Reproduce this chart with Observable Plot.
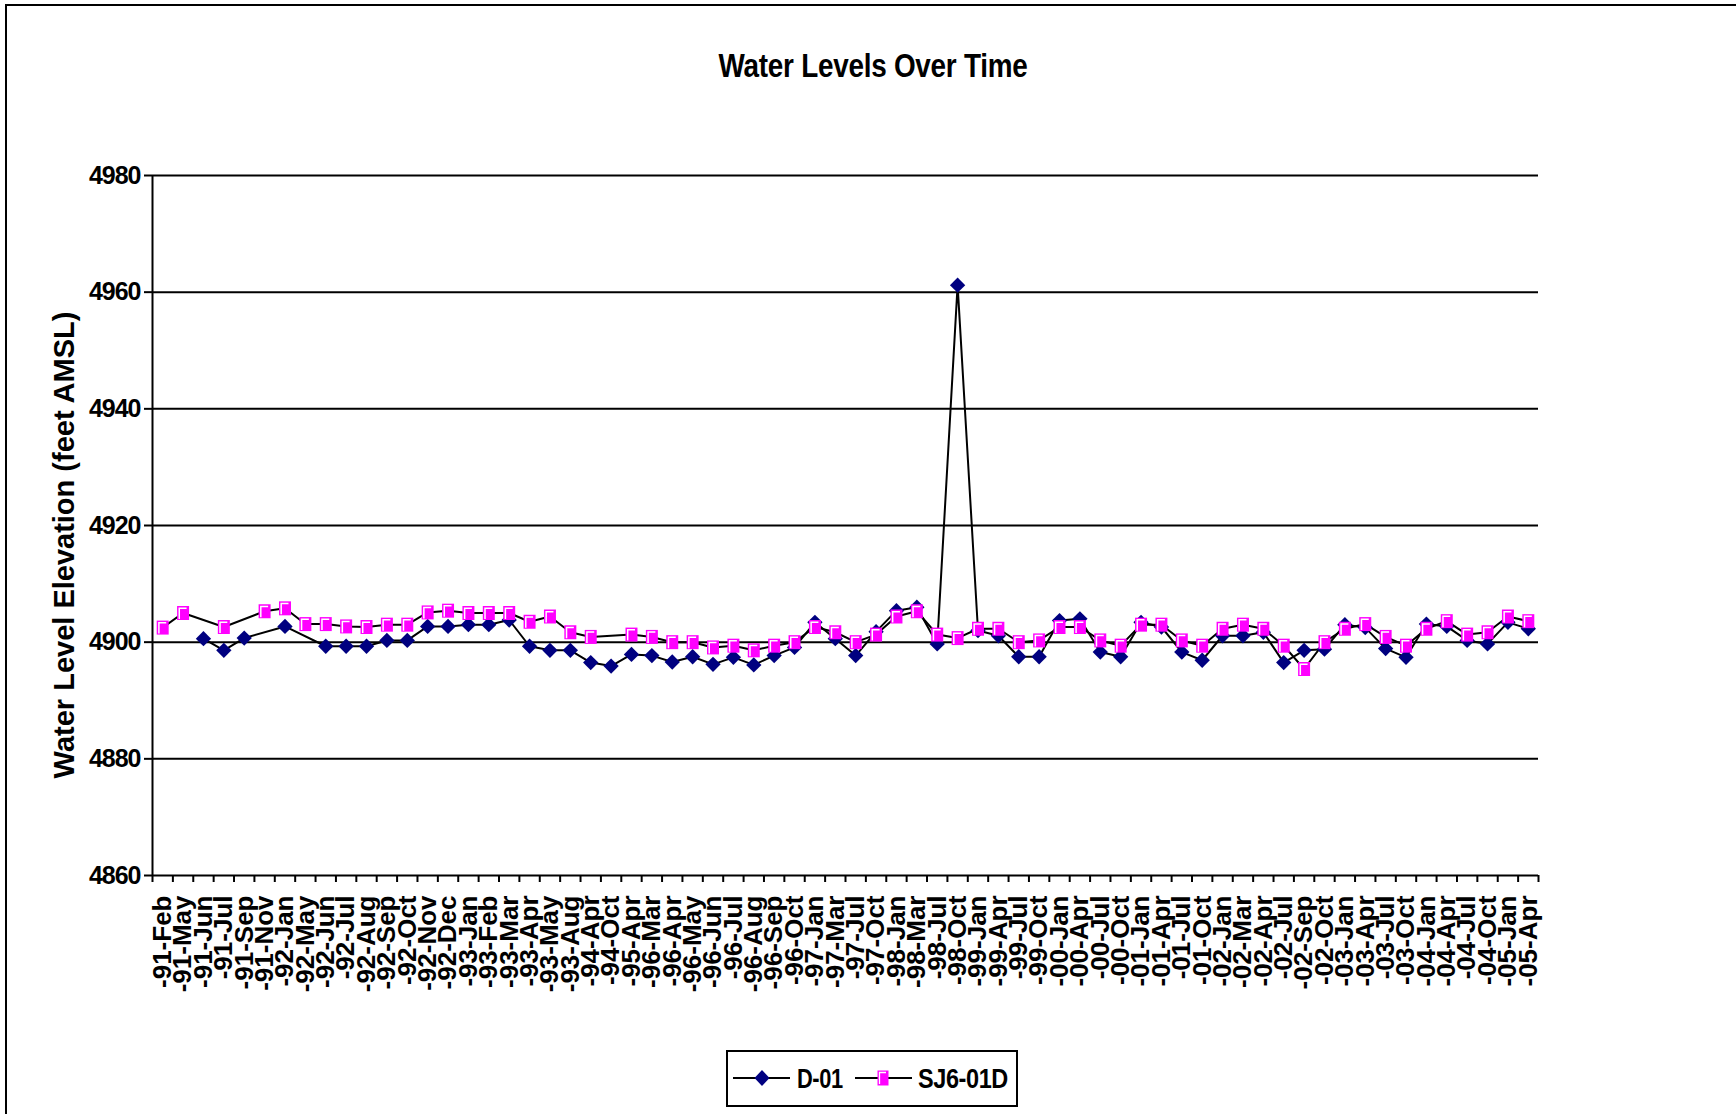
<!DOCTYPE html>
<html><head><meta charset="utf-8">
<script src="https://cdn.jsdelivr.net/npm/d3@7"></script>
<script src="https://cdn.jsdelivr.net/npm/@observablehq/plot@0.6"></script>
<style>
body{margin:0;background:#fff;}
#wrap{position:relative;width:1736px;height:1114px;overflow:hidden;font-family:"Liberation Sans",Arial,sans-serif;background:#fff;}
#frame{position:absolute;left:5px;top:4px;right:-10px;bottom:-10px;border-left:2px solid #000;border-top:2px solid #000;}
#chart{position:absolute;left:0;top:0;}
#title{position:absolute;left:0;width:1736px;top:46px;text-align:center;font-weight:bold;font-size:33px;line-height:40px;white-space:nowrap;transform:scaleX(0.845);transform-origin:868px 50%;letter-spacing:-0.3px;margin-left:5px;}
#ytitle{position:absolute;left:64px;top:545px;transform:translate(-50%,-50%) rotate(-90deg);font-weight:bold;font-size:29px;white-space:nowrap;line-height:30px;}
#legend{position:absolute;left:726px;top:1050px;}
</style>
</head><body>
<div id="wrap">
  <div id="frame"></div>
  <div id="chart"></div>
  <div id="title">Water Levels Over Time</div>
  <div id="ytitle">Water Level Elevation (feet AMSL)</div>
  <div id="legend"></div>
</div>
<script>
const labels = ["-91-Feb","-91-May","-91-Jun","-91-Jul","-91-Sep","-91-Nov","-92-Jan","-92-May","-92-Jun","-92-Jul","-92-Aug","-92-Sep","-92-Oct","-92-Nov","-92-Dec","-93-Jan","-93-Feb","-93-Mar","-93-Apr","-93-May","-93-Aug","-94-Apr","-94-Oct","-95-Apr","-96-Mar","-96-Apr","-96-May","-96-Jun","-96-Jul","-96-Aug","-96-Sep","-96-Oct","-97-Jan","-97-Mar","-97-Jul","-97-Oct","-98-Jan","-98-Mar","-98-Jul","-98-Oct","-99-Jan","-99-Apr","-99-Jul","-99-Oct","-00-Jan","-00-Apr","-00-Jul","-00-Oct","-01-Jan","-01-Apr","-01-Jul","-01-Oct","-02-Jan","-02-Mar","-02-Apr","-02-Jul","-02-Sep","-02-Oct","-03-Jan","-03-Apr","-03-Jul","-03-Oct","-04-Jan","-04-Apr","-04-Jul","-04-Oct","-05-Jan","-05-Apr"];

const d01 = [null,null,4900.6,4898.6,4900.7,null,4902.7,null,4899.3,4899.3,4899.3,4900.3,4900.3,4902.7,4902.7,4903.0,4903.0,4903.8,4899.3,4898.6,4898.6,4896.5,4895.9,4897.9,4897.7,4896.6,4897.5,4896.2,4897.4,4896.1,4897.7,4899.1,4903.4,4900.6,4897.7,4901.8,4905.4,4906.0,4899.7,4961.2,4902.0,4901.1,4897.5,4897.5,4903.7,4904.0,4898.3,4897.5,4903.4,4902.6,4898.3,4896.9,4901.1,4901.1,4901.7,4896.5,4898.6,4898.8,4903.0,4902.5,4898.9,4897.4,4903.1,4902.7,4900.3,4899.7,4903.4,4902.3];

const sj601d = [4902.5,4905.0,null,4902.6,null,4905.3,4905.8,4903.1,4903.1,4902.7,4902.6,4903.0,4903.0,4905.1,4905.4,4905.0,4905.0,4905.0,4903.5,4904.4,4901.7,4900.9,null,4901.3,4900.9,4900.0,4900.0,4899.1,4899.4,4898.6,4899.4,4900.0,4902.6,4901.7,4900.0,4901.3,4904.4,4905.3,4901.3,4900.7,4902.3,4902.3,4900.0,4900.3,4902.6,4902.6,4900.3,4899.4,4903.0,4903.0,4900.3,4899.4,4902.3,4903.0,4902.3,4899.4,4895.4,4900.0,4902.3,4903.1,4900.9,4899.4,4902.3,4903.6,4901.3,4901.7,4904.4,4903.6];

const yTicks = [4860,4880,4900,4920,4940,4960,4980];
const seriesNames = ["D-01","SJ6-01D"];

const toPts = arr => arr.map((v,i)=>({i: i+0.5, v})).filter(d => d.v != null);
const dPts = toPts(d01);
const sPts = toPts(sj601d);

const squareSym = {draw(ctx){ ctx.moveTo(-6,-7); ctx.lineTo(6,-7); ctx.lineTo(6,7); ctx.lineTo(-6,7); ctx.closePath(); }};
const gammaSym = {draw(ctx){ ctx.moveTo(-3.8,6); ctx.lineTo(-3.8,-4.8); ctx.lineTo(3.5,-4.8); }};

const plot = Plot.plot({
  width: 1736, height: 1114,
  marginLeft: 152, marginRight: 198, marginTop: 175, marginBottom: 239,
  style: {fontFamily: '"Liberation Sans", Arial, sans-serif', background: "transparent", overflow: "visible"},
  x: {type: "linear", domain: [0, labels.length], axis: null, label: null},
  y: {domain: [4860, 4980], axis: null, label: null},
  marks: [
    Plot.gridY(yTicks, {stroke: "#000", strokeOpacity: 1, strokeWidth: 2}),
    Plot.ruleX([0], {stroke: "#000", strokeWidth: 2}),
    Plot.axisY({ticks: yTicks, label: null, tickSize: 8, tickPadding: 4, fontSize: 25, fontWeight: "bold", strokeWidth: 2, tickFormat: d => String(d)}),
    Plot.axisX({ticks: d3.range(labels.length + 1), label: null, tickSize: 7, tickFormat: () => "", strokeWidth: 2}),
    Plot.axisX({ticks: labels.map((d,i)=>i+0.5), label: null, tickSize: 0, tickPadding: 20, tickRotate: -90, fontSize: 26, fontWeight: "bold", tickFormat: d => labels[Math.round(d - 0.5)]}),
    Plot.line(dPts, {x: "i", y: "v", stroke: "#000", strokeWidth: 2}),
    Plot.line(sPts, {x: "i", y: "v", stroke: "#000", strokeWidth: 2}),
    Plot.dot(dPts, {x: "i", y: "v", symbol: "diamond2", r: 6.9, fill: "#000080", stroke: "none"}),
    Plot.dot(sPts, {x: "i", y: "v", symbol: squareSym, fill: "#FF00FF", stroke: "none"}),
    Plot.dot(sPts, {x: "i", y: "v", symbol: gammaSym, fill: "none", stroke: "#fff", strokeWidth: 1.5})
  ]
});
document.getElementById("chart").appendChild(plot);
d3.select(plot).selectAll('g[aria-label="y-axis tick label"] text').style("letter-spacing", "-1px");

// legend
const lg = d3.select("#legend").append("svg").attr("width", 292).attr("height", 57);
lg.append("rect").attr("x",1).attr("y",1).attr("width",290).attr("height",55).attr("fill","#fff").attr("stroke","#000").attr("stroke-width",2);
const cy = 28;
lg.append("line").attr("x1",7).attr("x2",64).attr("y1",cy).attr("y2",cy).attr("stroke","#000").attr("stroke-width",2);
lg.append("path").attr("d",`M36,${cy-8}L43.5,${cy}L36,${cy+8}L28.5,${cy}Z`).attr("fill","#000080");
lg.append("text").attr("transform",`translate(71,${cy+10}) scale(0.78,1)`).text(seriesNames[0]).attr("font-size",28).attr("font-weight","bold").attr("letter-spacing","-0.5");
lg.append("line").attr("x1",129).attr("x2",186).attr("y1",cy).attr("y2",cy).attr("stroke","#000").attr("stroke-width",2);
lg.append("path").attr("d",`M151.5,${cy-7.5}h11v15h-11Z`).attr("fill","#FF00FF");
lg.append("path").attr("d",`M153.5,${cy+6}V${cy-5.5}H160`).attr("fill","none").attr("stroke","#fff").attr("stroke-width",1.3);
lg.append("text").attr("transform",`translate(192,${cy+10}) scale(0.84,1)`).text(seriesNames[1]).attr("font-size",28).attr("font-weight","bold").attr("letter-spacing","-0.5");
</script>
</body></html>
